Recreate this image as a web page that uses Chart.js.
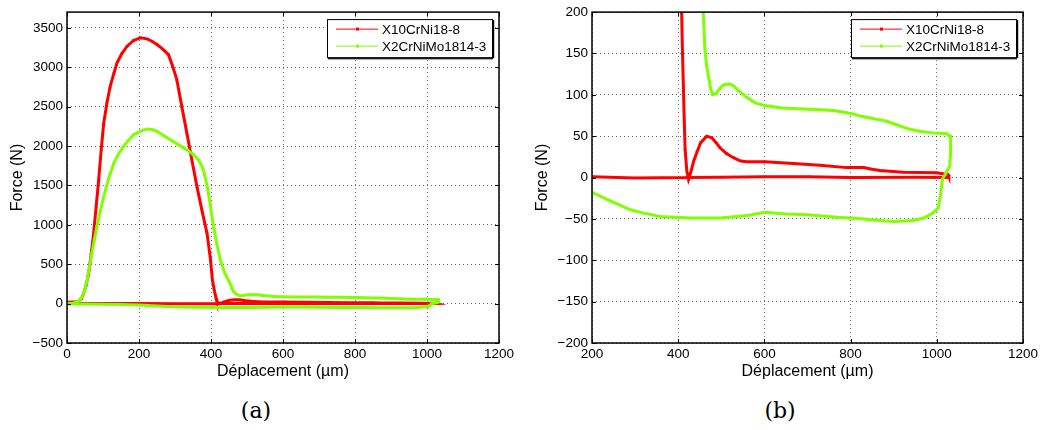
<!DOCTYPE html>
<html>
<head>
<meta charset="utf-8">
<script src="https://cdn.jsdelivr.net/npm/chart.js@4.4.0/dist/chart.umd.min.js"></script>
<style>
  html, body { margin: 0; padding: 0; background: #fff; }
  body { width: 1043px; height: 430px; position: relative; overflow: hidden; }
  .panel { position: absolute; top: 0; height: 385px; }
  #panel-a { left: 0; width: 520px; }
  #panel-b { left: 520px; width: 523px; }
  .caption { position: absolute; top: 398px; line-height: 26px; font-family: 'DejaVu Serif', serif; font-size: 22px; transform: translateX(-50%); }
</style>
</head>
<body>
<div class="panel" id="panel-a"><canvas id="chart-a"></canvas></div>
<div class="panel" id="panel-b"><canvas id="chart-b"></canvas></div>
<div class="caption" style="left:256px">(a)</div>
<div class="caption" style="left:780px">(b)</div>
<script>
// Force-displacement loops (µm, N).
const RED_LABEL = 'X10CrNi18-8';
const RED_X = [0, 15, 28, 40, 46, 53, 60, 67, 74, 81, 88, 95, 102, 111, 120, 130, 139, 152, 167, 185,
  204, 222, 236, 250, 266, 282, 293, 305, 319, 333, 347, 361, 375, 389, 398, 404, 408, 410, 412, 414,
  416, 420, 424, 430, 436, 443, 452, 466, 478, 488, 497, 512, 528, 545, 559, 601, 667, 729, 791, 830,
  850, 868, 922, 999, 1026, 1028, 1022, 950, 800, 700, 600, 500, 420, 300, 200, 100, 0];
const RED_Y = [18, 20, 22, 60, 127, 230, 382, 620, 891, 1230, 1570, 1950, 2291, 2550, 2758, 2920, 3055, 3170, 3267, 3340,
  3373, 3360, 3330, 3288, 3230, 3160, 3020, 2843, 2500, 2164, 1820, 1485, 1180, 891, 580, 300, 200, 150, 111, 70,
  34, 8, -2, 8, 20, 30, 42, 50, 48, 42, 36, 29, 24, 20, 19, 19, 17, 15, 12, 12,
  10, 8.5, 6.5, 5.7, 3.6, 1, 0, 0.5, 0, 1, 1, 0.5, 0, -0.5, 1, 2, 3];

const GREEN_LABEL = 'X2CrNiMo1814-3';
const GREEN_X = [0, 15, 28, 35, 42, 49, 56, 62, 69, 76, 83, 92, 102, 115, 130, 143, 157, 171, 185, 204,
  222, 236, 250, 268, 287, 310, 333, 350, 365, 372, 379, 386, 393, 400, 407, 416, 426, 439, 453, 458,
  462, 466, 470, 475, 480, 489, 497, 505, 520, 528, 540, 559, 580, 601, 640, 690, 730, 760, 785, 806,
  825, 845, 865, 884, 900, 922, 940, 961, 990, 1022, 1032, 1032, 1030, 1022, 1013, 1008, 1003, 991, 970, 945,
  900, 868, 830, 800, 767, 700, 650, 601, 560, 497, 430, 358, 320, 289, 250, 200, 150, 100, 50, 0];
const GREEN_Y = [0, 3, 21, 45, 85, 170, 297, 460, 636, 810, 976, 1170, 1358, 1580, 1782, 1900, 1994, 2075, 2143, 2190,
  2215, 2210, 2185, 2135, 2079, 2015, 1952, 1895, 1824, 1770, 1697, 1560, 1400, 1190, 976, 760, 552, 380, 255, 200,
  155, 135, 123, 108, 100, 102, 108, 112, 113, 111, 105, 97, 90, 87, 84, 83, 82, 81, 79, 77,
  74, 72, 70, 68, 65, 61, 58, 56, 54, 53, 50, 30, 14, 6, -2, -23, -37, -43, -49, -52,
  -53, -52, -50, -49, -48, -45, -44, -42, -46, -49, -49, -47, -43, -39, -30, -18, -12, -8, -5, -5];

// tick positions for each panel
const X_TICKS_A = [0, 200, 400, 600, 800, 1000, 1200];
const Y_TICKS_A = [-500, 0, 500, 1000, 1500, 2000, 2500, 3000, 3500];
const X_TICKS_B = [200, 400, 600, 800, 1000, 1200];
const Y_TICKS_B = [-200, -150, -100, -50, 0, 50, 100, 150, 200];

const RED = '#ff0000';
const GREEN = '#7fff00';
const FONT = "'Liberation Sans', Arial, Helvetica, sans-serif";

function toPoints(xs, ys) {
  return xs.map((x, i) => ({x, y: ys[i]}));
}

function minus(v) { return String(v).replace('-', '\u2212'); }

// MATLAB-style box: full frame, inward tick marks, boxed legend top right.
const matlabBox = {
  id: 'matlabBox',
  afterDraw(chart) {
    const {ctx, chartArea: a, scales} = chart;
    ctx.save();
    ctx.strokeStyle = '#000';
    ctx.lineWidth = 1;
    ctx.beginPath();
    for (const t of scales.x.ticks) {
      const px = Math.round(scales.x.getPixelForValue(t.value)) + 0.5;
      ctx.moveTo(px, a.bottom); ctx.lineTo(px, a.bottom - 4);
      ctx.moveTo(px, a.top); ctx.lineTo(px, a.top + 4);
    }
    for (const t of scales.y.ticks) {
      const py = Math.round(scales.y.getPixelForValue(t.value)) + 0.5;
      ctx.moveTo(a.left, py); ctx.lineTo(a.left + 4, py);
      ctx.moveTo(a.right, py); ctx.lineTo(a.right - 4, py);
    }
    ctx.stroke();
    ctx.lineWidth = 1.5;
    ctx.strokeRect(a.left, a.top, a.right - a.left, a.bottom - a.top);

    // legend
    const w = 165, h = 38;
    const lx = a.right - 7 - w, ly = a.top + 7;
    ctx.fillStyle = '#fff';
    ctx.fillRect(lx, ly, w, h);
    ctx.lineWidth = 1;
    ctx.strokeRect(lx + 0.5, ly + 0.5, w, h);
    ctx.fillStyle = '#000';
    ctx.fillRect(lx + 1, ly + h + 1, w, 1.2);
    ctx.fillRect(lx + w + 1, ly + 1, 1.2, h);
    ctx.font = '13.5px ' + FONT;
    ctx.textBaseline = 'middle';
    chart.data.datasets.forEach((ds, i) => {
      const y = ly + 10 + i * 17;
      ctx.strokeStyle = ds.borderColor;
      ctx.lineWidth = 1;
      ctx.beginPath();
      ctx.moveTo(lx + 9, y); ctx.lineTo(lx + 51, y);
      ctx.stroke();
      ctx.fillStyle = ds.borderColor;
      ctx.fillRect(lx + 29, y - 1.5, 3, 3);
      ctx.fillStyle = '#000';
      ctx.fillText(ds.label, lx + 55, y + 1);
    });
    ctx.restore();
  }
};

function makeChart(id, xTicks, yTicks, yMax, padLeft, padRight) {
  const ctx = document.getElementById(id).getContext('2d');
  const common = {
    showLine: true,
    borderWidth: 3,
    pointStyle: 'crossRot',
    pointRadius: 1.6,
    pointBorderWidth: 1,
    tension: 0,
  };
  const tickFont = {family: FONT, size: 13.5};
  const grid = {color: 'rgba(0,0,0,0.6)', lineWidth: 1, drawTicks: false};
  return new Chart(ctx, {
    type: 'scatter',
    data: {datasets: [
      {...common, label: RED_LABEL, data: toPoints(RED_X, RED_Y),
       borderColor: RED, backgroundColor: RED, order: 1},
      {...common, label: GREEN_LABEL, data: toPoints(GREEN_X, GREEN_Y),
       borderColor: GREEN, backgroundColor: GREEN, order: 0},
    ]},
    options: {
      responsive: true,
      maintainAspectRatio: false,
      animation: false,
      layout: {padding: {left: padLeft, right: padRight, top: 12, bottom: 0}},
      plugins: {legend: {display: false}, tooltip: {enabled: false}},
      scales: {
        x: {
          type: 'linear', min: xTicks[0], max: xTicks[xTicks.length - 1],
          afterFit: s => { s.height = 42; },
          afterBuildTicks: s => { s.ticks = xTicks.map(v => ({value: v})); },
          grid,
          border: {display: false, dash: [1, 3]},
          ticks: {autoSkip: false, padding: 3, color: '#000', font: tickFont, callback: minus},
          title: {display: true, text: 'Déplacement (µm)', color: '#000',
                  font: {family: FONT, size: 16}, padding: {top: 4, bottom: 4}},
        },
        y: {
          type: 'linear', min: yTicks[0], max: yMax,
          afterFit: s => { s.width = 63; },
          afterBuildTicks: s => { s.ticks = yTicks.map(v => ({value: v})); },
          grid,
          border: {display: false, dash: [1, 3]},
          ticks: {autoSkip: false, padding: 4, color: '#000', font: tickFont, callback: minus},
          title: {display: true, text: 'Force (N)', color: '#000',
                  font: {family: FONT, size: 16}, padding: {top: 4, bottom: 4}},
        },
      },
    },
    plugins: [matlabBox],
  });
}

makeChart('chart-a', X_TICKS_A, Y_TICKS_A, 3700, 4, 21);
makeChart('chart-b', X_TICKS_B, Y_TICKS_B, 200, 9, 20);
</script>
</body>
</html>
